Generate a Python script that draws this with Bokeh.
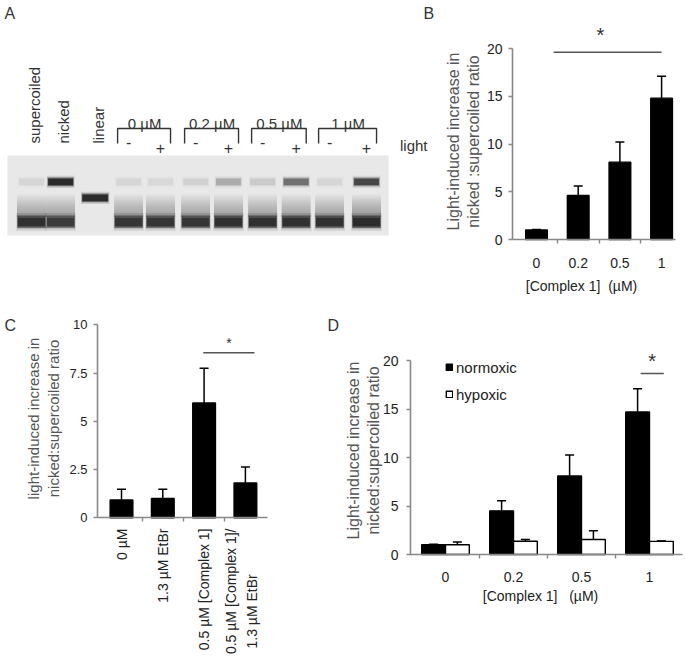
import math
from bokeh.plotting import figure
from bokeh.models import (Range1d, FixedTicker, Label, Whisker, TeeHead, LinearAxis,
                          ColumnDataSource, Legend, LegendItem)
from bokeh.layouts import column, row
from bokeh.embed import file_html
from bokeh.resources import INLINE
from bokeh.core.properties import value

FONT = "Liberation Sans"
TXT = "#222222"
YLAB = "#555555"
AXC = "#888888"
NBSP = "\u00a0"

# ---------------- data ----------------
# Panel A: agarose gel
lane_labels = ["supercoiled", "nicked", "linear"]
lane_pos = [0.0, 0.87, 1.9, 2.9, 3.85, 4.9, 5.88, 6.9, 7.9, 8.9, 10.0]
light_signs = ["-", "+", "-", "+", "-", "+", "-", "+"]
conc_groups = ["0 µM", "0.2 µM", "0.5 µM", "1 µM"]
conc_group_lanes = [(3, 4), (5, 6), (7, 8), (9, 10)]
light_label = "light"
nicked_mobility = 0.33
linear_mobility = 0.53
supercoiled_mobility = 0.83
nicked_intensity = [0.06, 1.0, 0.0, 0.06, 0.05, 0.08, 0.22, 0.1, 0.5, 0.06, 0.75]
linear_intensity = [0.0, 0.0, 1.0, 0.0, 0.0, 0.0, 0.0, 0.0, 0.0, 0.0, 0.0]
supercoiled_intensity = [0.95, 0.85, 0.0, 0.9, 0.9, 0.9, 0.95, 0.95, 0.95, 0.95, 1.0]

# Panel B
b_categories = ["0", "0.2", "0.5", "1"]
b_values = [1.0, 4.6, 8.1, 14.8]
b_err_top = [1.05, 5.6, 10.2, 17.1]
b_yticks = [0, 5, 10, 15, 20]
b_sig_x = [0.41, 3.0]
b_sig_y = 19.6
b_star_xy = (1.53, 21.8)

# Panel C
c_categories = ["0 µM", "1.3 µM EtBr", "0.5 µM [Complex 1]",
                "0.5 µM [Complex 1]/\n1.3 µM EtBr"]
c_values = [0.92, 1.0, 5.95, 1.8]
c_err_top = [1.48, 1.48, 7.75, 2.63]
c_yticks = [0, 2.5, 5, 7.5, 10]
c_ytick_labels = ["0", "2.5", "5", "7.5", "10"]
c_sig_x = [1.98, 3.22]
c_sig_y = 8.55
c_star_xy = (2.6, 9.2)

# Panel D
d_categories = ["0", "0.2", "0.5", "1"]
d_series = ["normoxic", "hypoxic"]
d_normoxic = [1.0, 4.5, 8.1, 14.7]
d_normoxic_err = [1.05, 5.55, 10.25, 17.1]
d_hypoxic = [1.0, 1.37, 1.55, 1.35]
d_hypoxic_err = [1.3, 1.55, 2.45, 1.4]
d_yticks = [0, 5, 10, 15, 20]
d_sig_x = [2.87, 3.21]
d_sig_y = 18.66
d_star_xy = (3.04, 20.4)


# ---------------- helpers ----------------
def make_fig(g):
    xr = Range1d((g["x0"] - g["cx0"]) / g["pxx"], (g["x0"] + g["W"] - g["cx0"]) / g["pxx"])
    yr = Range1d((g["cy0"] - (g["y0"] + g["H"])) / g["pxy"], (g["cy0"] - g["y0"]) / g["pxy"])
    p = figure(width=g["W"], height=g["H"], x_range=xr, y_range=yr, min_border=0,
               toolbar_location=None, output_backend="svg", title=None,
               x_axis_location=None, y_axis_location=None)
    p.outline_line_color = None
    p.grid.visible = False
    return p


def add_axes(p, g, yaxis_px, xend_px, yticks, ylabels, ysize, ystand,
             xlabels, xsize, xstand):
    lo = (yaxis_px - g["cx0"]) / g["pxx"]
    hi = (xend_px - g["cx0"]) / g["pxx"]
    ya = LinearAxis(fixed_location=lo, ticker=FixedTicker(ticks=yticks),
                    bounds=(0, yticks[-1]))
    ya.major_label_overrides = {t: l for t, l in zip(yticks, ylabels)}
    ya.axis_line_color = AXC
    ya.axis_line_width = 1.6
    ya.major_tick_line_color = AXC
    ya.major_tick_line_width = 1.4
    ya.major_tick_out = 4
    ya.major_tick_in = 0
    ya.minor_tick_line_color = None
    ya.major_label_text_font = FONT
    ya.major_label_text_font_size = ysize
    ya.major_label_text_color = TXT
    ya.major_label_standoff = ystand
    p.add_layout(ya, "left")
    n = len(xlabels)
    xa = LinearAxis(fixed_location=0,
                    ticker=FixedTicker(ticks=list(range(n)),
                                       minor_ticks=[i + 0.5 for i in range(n - 1)]),
                    bounds=(lo, hi))
    xa.major_label_overrides = {i: l for i, l in enumerate(xlabels)}
    xa.axis_line_color = AXC
    xa.axis_line_width = 1.6
    xa.major_tick_line_color = None
    xa.major_tick_out = 0
    xa.major_tick_in = 0
    xa.minor_tick_line_color = AXC
    xa.minor_tick_line_width = 1.4
    xa.minor_tick_out = 4
    xa.minor_tick_in = 0
    xa.major_label_text_font = FONT
    xa.major_label_text_font_size = xsize
    xa.major_label_text_color = TXT
    xa.major_label_standoff = xstand
    p.add_layout(xa, "below")


def plabel(p, g, px, py, text, size, color=TXT, angle=0.0, align="center",
           baseline="middle"):
    """Label placed at page pixel (px, py) of the figure described by g."""
    p.add_layout(Label(x=px - g["x0"], y=g["y0"] + g["H"] - py,
                       x_units="screen", y_units="screen",
                       text=text, angle=angle, text_align=align, text_baseline=baseline,
                       text_font=FONT, text_font_size=size, text_color=color))


def star(p, g, xy, size_px):
    p.add_layout(Label(x=xy[0], y=xy[1] - 0.2 * size_px / g["pxy"], text="*",
                       text_align="center", text_baseline="alphabetic",
                       text_font=FONT, text_font_size=f"{size_px}px",
                       text_color="#333333"))


def bars(p, xs, tops, errs, width, fill):
    src = ColumnDataSource(dict(x=xs, top=tops, upper=errs))
    r = p.vbar(x="x", top="top", width=width, source=src, fill_color=fill,
               line_color="black", line_width=1.4)
    p.add_layout(Whisker(source=src, base="x", lower="top", upper="upper",
                         line_color="black", line_width=1.5,
                         upper_head=TeeHead(size=9, line_color="black", line_width=1.5),
                         lower_head=None))
    return r


# ---------------- Panel A (gel) ----------------
gA = dict(x0=0, y0=0, W=440, H=310)
LANE_PX, LANE0 = 33.5, 31.0      # px per lane unit, page px of lane 0
GEL_TOP, GEL_PX = 155.0, 80.0    # page px of wells, px per mobility unit
pA = figure(width=gA["W"], height=gA["H"],
            x_range=Range1d((gA["x0"] - LANE0) / LANE_PX, (gA["x0"] + gA["W"] - LANE0) / LANE_PX),
            y_range=Range1d((gA["y0"] + gA["H"] - GEL_TOP) / GEL_PX, (gA["y0"] - GEL_TOP) / GEL_PX),
            min_border=0, toolbar_location=None, output_backend="svg", title=None,
            x_axis_location=None, y_axis_location=None)
pA.grid.visible = False
pA.outline_line_color = None

pA.quad(left=lane_pos[0] - 0.72, right=lane_pos[-1] + 0.66, top=0, bottom=1,
        fill_color="#e8e8e8", line_color=None)


def draw_band(intens, mob, w, h, layers):
    xs = [x for x, v in zip(lane_pos, intens) if v > 0]
    vs = [v for v in intens if v > 0]
    for ws, hs, dy, a in layers:
        src = ColumnDataSource(dict(x=xs, y=[mob + dy] * len(xs),
                                    a=[min(1.0, v * a) for v in vs]))
        pA.rect(x="x", y="y", width=w * ws, height=h * hs, source=src,
                fill_color="#121212", fill_alpha="a", line_color=None)


sharp = [(1.06, 1.4, 0.0, 0.12), (1.0, 1.0, 0.0, 0.55), (0.95, 0.7, 0.0, 0.7)]
# smear trailing above the supercoiled band (smooth gradient towards the band)
smear = [(1.0, 0.04 + 0.022 * k, -(0.02 + 0.011 * k), 0.035) for k in range(12)]
draw_band(supercoiled_intensity, supercoiled_mobility - 0.06, 0.86, 1.0, smear)
draw_band(supercoiled_intensity, supercoiled_mobility, 0.86, 0.16, sharp)
draw_band(linear_intensity, linear_mobility, 0.8, 0.11, sharp)
draw_band(nicked_intensity, nicked_mobility, 0.78, 0.11, sharp)

# lane labels (rotated)
pA.text(x=[x + 0.1 for x in lane_pos[:3]], y=[-0.15] * 3, text=lane_labels,
        angle=math.pi / 2, text_align="left", text_baseline="middle",
        text_font=value(FONT), text_font_size="15px", text_color="#333333")
# concentration brackets
bx, by = [], []
for a, b in conc_group_lanes:
    l, r = lane_pos[a] - 0.33, lane_pos[b] + 0.3
    bx.append([l, l, r, r])
    by.append([-0.15, -0.3375, -0.3375, -0.15])
pA.multi_line(xs=bx, ys=by, line_color="#333333", line_width=1.4)
pA.text(x=[(lane_pos[a] + lane_pos[b]) / 2 for a, b in conc_group_lanes],
        y=[-0.4] * 4, text=conc_groups, text_align="center", text_baseline="alphabetic",
        text_font=value(FONT), text_font_size="15px", text_color="#333333")
pA.text(x=lane_pos[3:], y=[-0.175 if s == "-" else -0.1 for s in light_signs],
        text=light_signs, text_align="center", text_baseline="alphabetic",
        text_font=value(FONT), text_font_size="16px", text_color="#333333")
pA.text(x=[lane_pos[-1] + 1.0], y=[-0.13], text=[light_label], text_align="left",
        text_baseline="alphabetic", text_font=value(FONT), text_font_size="15px",
        text_color="#333333")
plabel(pA, gA, 4, 4, "A", "16px", "#333333", align="left", baseline="top")
plabel(pA, gA, 423, 4, "B", "16px", "#333333", align="left", baseline="top")

# ---------------- Panel B ----------------
gB = dict(x0=440, y0=0, W=245, H=310, cx0=536.0, pxx=41.7, cy0=239.0, pxy=9.55)
pB = make_fig(gB)
add_axes(pB, gB, 512, 675, b_yticks, [str(t) for t in b_yticks], "14px", 6,
         b_categories, "14px", 14)
bars(pB, list(range(len(b_values))), b_values, b_err_top, 0.52, "black")
pB.line(x=b_sig_x, y=[b_sig_y] * 2, line_color="#555555", line_width=1.6)
star(pB, gB, b_star_xy, 20)
plabel(pB, gB, 453, 141, "Light-induced increase in", "16px", YLAB, math.pi / 2)
plabel(pB, gB, 473, 141, "nicked :supercoiled ratio", "16px", YLAB, math.pi / 2)
plabel(pB, gB, 581, 285, "[Complex 1]" + NBSP * 2 + "(µM)", "14px")

# ---------------- Panel C ----------------
gC = dict(x0=0, y0=310, W=325, H=347, cx0=121.0, pxx=41.3, cy0=517.3, pxy=19.3)
pC = make_fig(gC)
add_axes(pC, gC, 97, 267, c_yticks, c_ytick_labels, "13px", 6, [""] * 4, "13px", 4)
bars(pC, list(range(len(c_values))), c_values, c_err_top, 0.55, "black")
pC.line(x=c_sig_x, y=[c_sig_y] * 2, line_color="#555555", line_width=1.6)
star(pC, gC, c_star_xy, 14)
c_top = gC["y0"] + gC["H"] - 528      # screen y of label tops
c_bot = gC["y0"] + gC["H"] - 648      # screen y of label starts (2nd line)
for i, lab in enumerate(c_categories):
    lines = lab.split("\n")
    if len(lines) == 1:
        pC.add_layout(Label(x=i, y=c_top, x_units="data", y_units="screen", text=lab,
                            angle=math.pi / 2, text_align="right", text_baseline="middle",
                            text_font=FONT, text_font_size="14px", text_color=TXT))
    else:
        pC.add_layout(Label(x=i, y=c_top, x_units="data", y_units="screen", x_offset=-14,
                            text=lines[0], angle=math.pi / 2, text_align="right",
                            text_baseline="middle", text_font=FONT,
                            text_font_size="14px", text_color=TXT))
        pC.add_layout(Label(x=i, y=c_bot, x_units="data", y_units="screen", x_offset=7,
                            text=lines[1], angle=math.pi / 2, text_align="left",
                            text_baseline="middle", text_font=FONT,
                            text_font_size="14px", text_color=TXT))
plabel(pC, gC, 33, 418, "light-induced increase in", "15px", YLAB, math.pi / 2)
plabel(pC, gC, 53, 418, "nicked:supercoiled ratio", "15px", YLAB, math.pi / 2)
plabel(pC, gC, 4, 316, "C", "16px", "#333333", align="left", baseline="top")

# ---------------- Panel D ----------------
gD = dict(x0=325, y0=310, W=360, H=347, cx0=445.0, pxx=68.0, cy0=554.0, pxy=9.7)
pD = make_fig(gD)
add_axes(pD, gD, 410, 682, d_yticks, [str(t) for t in d_yticks], "14px", 8,
         d_categories, "14px", 13)
BW = 0.35
rn = bars(pD, [i - BW / 2 for i in range(4)], d_normoxic, d_normoxic_err, BW, "black")
rh = bars(pD, [i + BW / 2 for i in range(4)], d_hypoxic, d_hypoxic_err, BW, "white")
pD.line(x=d_sig_x, y=[d_sig_y] * 2, line_color="#555555", line_width=1.6)
star(pD, gD, d_star_xy, 20)
leg = Legend(items=[LegendItem(label=d_series[0], renderers=[rn]),
                    LegendItem(label=d_series[1], renderers=[rh])],
             location=(445 - gD["x0"], gD["y0"] + gD["H"] - 404),
             orientation="vertical", glyph_width=8, glyph_height=8,
             label_standoff=3, spacing=7, padding=0, margin=0, label_height=20,
             border_line_color=None, background_fill_alpha=0,
             label_text_font=FONT, label_text_font_size="15px", label_text_color=TXT)
pD.add_layout(leg)
plabel(pD, gD, 353, 450, "Light-induced increase in", "16px", YLAB, math.pi / 2)
plabel(pD, gD, 373, 450, "nicked:supercoiled ratio", "16px", YLAB, math.pi / 2)
plabel(pD, gD, 540, 595, "[Complex 1]" + NBSP * 3 + "(µM)", "14px")
plabel(pD, gD, 327, 316, "D", "16px", "#333333", align="left", baseline="top")

layout = column(row(pA, pB), row(pC, pD))
open("out.html", "w").write(file_html(layout, INLINE))
